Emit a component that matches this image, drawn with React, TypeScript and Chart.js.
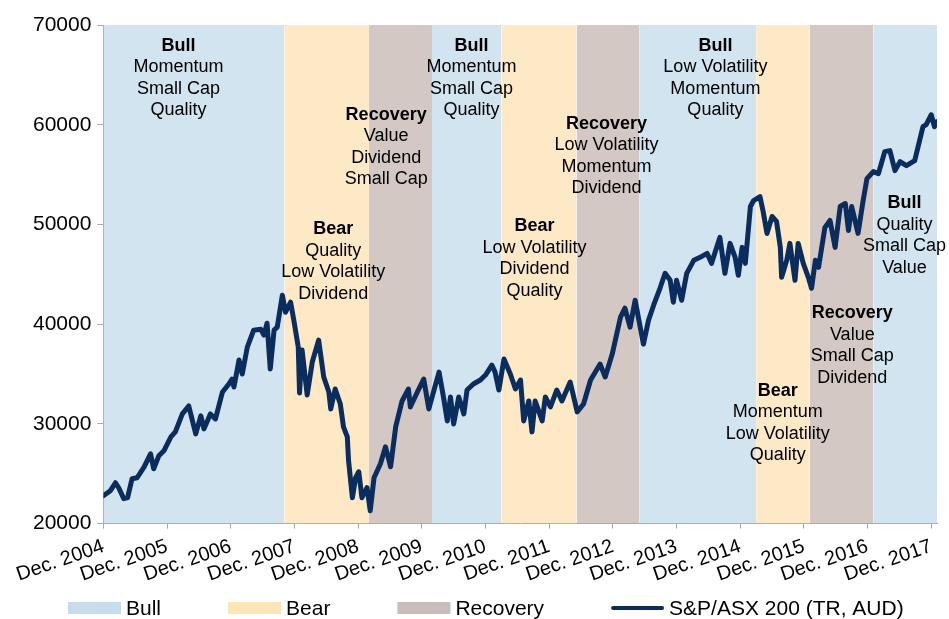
import React, { useEffect, useRef } from "react";
import { Chart, registerables } from "chart.js";

Chart.register(...registerables);

// ---- Data ----
const TICK_LABELS = [
  "Dec. 2004", "Dec. 2005", "Dec. 2006", "Dec. 2007", "Dec. 2008", "Dec. 2009", "Dec. 2010",
  "Dec. 2011", "Dec. 2012", "Dec. 2013", "Dec. 2014", "Dec. 2015", "Dec. 2016", "Dec. 2017",
];
const X_MAX = 13.09;

// years since Dec. 2004
const INDEX_YEARS = [
  0.0, 0.11, 0.19, 0.24, 0.32, 0.38, 0.45, 0.53, 0.64, 0.74, 0.79, 0.87, 0.95, 1.06, 1.13, 1.24,
  1.34, 1.45, 1.53, 1.58, 1.68, 1.76, 1.87, 1.97, 2.02, 2.05, 2.13, 2.18, 2.26, 2.36, 2.47, 2.52,
  2.57, 2.62, 2.68, 2.73, 2.81, 2.86, 2.94, 2.99, 3.06, 3.08, 3.12, 3.2, 3.28, 3.38, 3.46, 3.54,
  3.57, 3.64, 3.72, 3.77, 3.83, 3.85, 3.91, 3.96, 4.01, 4.06, 4.14, 4.19, 4.25, 4.35, 4.43, 4.51,
  4.59, 4.69, 4.79, 4.82, 4.93, 5.03, 5.11, 5.27, 5.34, 5.4, 5.45, 5.5, 5.58, 5.66, 5.71, 5.81,
  5.92, 6.0, 6.1, 6.15, 6.21, 6.29, 6.39, 6.47, 6.55, 6.6, 6.68, 6.73, 6.78, 6.89, 6.94, 7.02,
  7.12, 7.2, 7.33, 7.44, 7.54, 7.65, 7.8, 7.88, 7.99, 8.12, 8.19, 8.27, 8.35, 8.48, 8.56, 8.64,
  8.74, 8.82, 8.9, 8.95, 9.0, 9.08, 9.16, 9.27, 9.37, 9.48, 9.55, 9.68, 9.76, 9.84, 9.92, 9.97,
  10.03, 10.08, 10.16, 10.21, 10.31, 10.36, 10.42, 10.5, 10.57, 10.63, 10.65, 10.73, 10.78, 10.86,
  10.91, 10.99, 11.07, 11.12, 11.18, 11.23, 11.33, 11.41, 11.49, 11.57, 11.65, 11.7, 11.75, 11.85,
  11.93, 11.99, 12.09, 12.17, 12.27, 12.35, 12.43, 12.51, 12.61, 12.74, 12.82, 12.87, 12.92, 13.0,
  13.05, 13.08,
];
const INDEX_VALUES = [
  22800, 23300, 24100, 23600, 22500, 22600, 24500, 24600, 25700, 27000, 25500, 26800, 27300, 28700, 29200, 31000,
  31800, 29000, 30800, 29500, 31000, 30500, 33200, 34000, 34500, 33700, 36400, 35000, 37700, 39400, 39500, 38900,
  40100, 35500, 39400, 39700, 42900, 41200, 42200, 40400, 37700, 33100, 37400, 32900, 36200, 38400, 34700, 33200,
  31500, 33500, 32000, 29700, 28700, 26300, 22600, 24600, 25200, 22600, 23600, 21300, 24600, 26000, 27700, 25700,
  29700, 32300, 33500, 31700, 33200, 34500, 31500, 35200, 32700, 30300, 32700, 30000, 32700, 31000, 33400, 34000,
  34400, 34900, 35900, 35200, 33400, 36500, 35000, 33500, 34400, 30300, 32300, 29200, 32300, 30300, 32700, 31700,
  33400, 32300, 34200, 31200, 32000, 34400, 36000, 34700, 37000, 40700, 41600, 39700, 42400, 38000, 40400, 41900,
  43600, 45100, 44400, 42200, 44400, 42400, 45100, 46400, 46700, 47100, 46100, 48700, 45100, 48100, 46700, 44900,
  47700, 46100, 51800, 52400, 52800, 51300, 49100, 50800, 50300, 47700, 44700, 46400, 48100, 44400,
  48100, 46100, 44700, 43600, 46400, 45700, 49700, 50400, 47700, 51800, 52100, 49400, 51800, 49100,
  52400, 54600, 55300, 55100, 57300, 57400, 55400, 56300, 55900, 56400, 58500, 59800, 60000, 61000,
  59800, 60300,
];

const REGIME_TYPES = ["Bull", "Bear", "Recovery", "Bull", "Bear", "Recovery", "Bull", "Bear", "Recovery", "Bull"];
const REGIME_START = [0, 2.84, 4.17, 5.16, 6.25, 7.43, 8.42, 10.25, 11.09, 12.09];
const REGIME_END = [2.84, 4.17, 5.16, 6.25, 7.43, 8.42, 10.25, 11.09, 12.09, X_MAX];

const NOTE_X = [1.18, 3.61, 4.44, 5.78, 6.77, 7.9, 9.61, 10.59, 11.76, 12.58];
const NOTE_Y = [67900, 49500, 61000, 67900, 49800, 60100, 67900, 33300, 41100, 52100];
const NOTE_TITLES = ["Bull", "Bear", "Recovery", "Bull", "Bear", "Recovery", "Bull", "Bear", "Recovery", "Bull"];
const NOTE_LINES = [
  ["Momentum", "Small Cap", "Quality"],
  ["Quality", "Low Volatility", "Dividend"],
  ["Value", "Dividend", "Small Cap"],
  ["Momentum", "Small Cap", "Quality"],
  ["Low Volatility", "Dividend", "Quality"],
  ["Low Volatility", "Momentum", "Dividend"],
  ["Low Volatility", "Momentum", "Quality"],
  ["Momentum", "Low Volatility", "Quality"],
  ["Value", "Small Cap", "Dividend"],
  ["Quality", "Small Cap", "Value"],
];

const SERIES_LABEL = "S&P/ASX 200 (TR, AUD)";
const LEGEND_TYPES = ["Bull", "Bear", "Recovery"];

// ---- Styles ----
const FONT = "'Liberation Sans', Arial, Helvetica, sans-serif";
const FILL: Record<string, string> = { Bull: "#d2e4f0", Bear: "#fde9c6", Recovery: "#d3c8c4" };
const LEGEND_FILL: Record<string, string> = { Bull: "#c8ddec", Bear: "#fde5b7", Recovery: "#c8bdb8" };
const LINE_COLOR = "#0b2d5e";
const AXIS_COLOR = "#a6a6a6";

const notesPlugin = {
  id: "regimeNotes",
  afterDatasetsDraw(chart: any) {
    const { ctx, scales } = chart;
    ctx.save();
    ctx.textAlign = "center";
    ctx.textBaseline = "middle";
    ctx.fillStyle = "#000";
    const lh = 21.5;
    NOTE_X.forEach((x, i) => {
      const px = scales.x.getPixelForValue(x);
      const py = scales.y.getPixelForValue(NOTE_Y[i]);
      ctx.font = `bold 18px ${FONT}`;
      ctx.fillText(NOTE_TITLES[i], px, py);
      ctx.font = `18px ${FONT}`;
      NOTE_LINES[i].forEach((t, j) => ctx.fillText(t, px, py + lh * (j + 1)));
    });
    ctx.restore();
  },
};

const legendPlugin = {
  id: "customLegend",
  afterDraw(chart: any) {
    const { ctx } = chart;
    ctx.save();
    ctx.font = `21px ${FONT}`;
    ctx.textBaseline = "middle";
    ctx.textAlign = "left";
    const cy = 608;
    const boxW = 53;
    const gapText = 5;
    const gapItem = 67;
    let x = 68;
    LEGEND_TYPES.forEach((t) => {
      ctx.fillStyle = LEGEND_FILL[t];
      ctx.fillRect(x, cy - 6, boxW, 12);
      x += boxW + gapText;
      ctx.fillStyle = "#000";
      ctx.fillText(t, x, cy + 1);
      x += ctx.measureText(t).width + gapItem;
    });
    ctx.strokeStyle = LINE_COLOR;
    ctx.lineWidth = 4;
    ctx.lineCap = "round";
    ctx.beginPath();
    ctx.moveTo(x + 2, cy);
    ctx.lineTo(x + boxW - 2, cy);
    ctx.stroke();
    x += boxW + gapText;
    ctx.fillStyle = "#000";
    ctx.fillText(SERIES_LABEL, x, cy + 1);
    ctx.restore();
  },
};

export default function App() {
  const ref = useRef<HTMLCanvasElement | null>(null);

  useEffect(() => {
    if (!ref.current) return;
    const regimeSets = REGIME_TYPES.map((t, i) => ({
      type: "line" as const,
      label: t,
      data: [
        { x: REGIME_START[i], y: 70000 },
        { x: REGIME_END[i], y: 70000 },
      ],
      fill: "start",
      backgroundColor: FILL[t],
      borderColor: "rgba(0,0,0,0)",
      borderWidth: 0,
      pointRadius: 0,
      order: 2,
    }));
    const chart = new Chart(ref.current, {
      type: "line",
      data: {
        datasets: [
          {
            label: SERIES_LABEL,
            data: INDEX_YEARS.map((x, i) => ({ x, y: INDEX_VALUES[i] })),
            borderColor: LINE_COLOR,
            backgroundColor: LINE_COLOR,
            borderWidth: 5,
            borderJoinStyle: "round",
            borderCapStyle: "round",
            pointRadius: 0,
            tension: 0,
            fill: false,
            order: 1,
          },
          ...regimeSets,
        ] as any,
      },
      options: {
        animation: false,
        responsive: true,
        maintainAspectRatio: false,
        layout: { padding: { left: 27, right: 12, top: 25, bottom: 26 } },
        plugins: {
          legend: { display: false },
          tooltip: { enabled: false },
          title: { display: false },
        },
        scales: {
          x: {
            type: "linear",
            min: 0,
            max: X_MAX,
            afterBuildTicks: (axis: any) => {
              axis.ticks = TICK_LABELS.map((_, i) => ({ value: i }));
            },
            ticks: {
              autoSkip: false,
              minRotation: 19,
              maxRotation: 19,
              padding: 6,
              color: "#000",
              font: { family: FONT, size: 20 },
              callback: (v: any) => TICK_LABELS[Math.round(Number(v))] ?? "",
            },
            grid: { drawOnChartArea: false, drawTicks: true, tickLength: 5, color: AXIS_COLOR },
            border: { display: true, color: AXIS_COLOR, width: 1 },
          },
          y: {
            type: "linear",
            min: 20000,
            max: 70000,
            ticks: {
              stepSize: 10000,
              padding: 6,
              color: "#000",
              font: { family: FONT, size: 21 },
              callback: (v: any) => String(v),
            },
            grid: { drawOnChartArea: false, drawTicks: true, tickLength: 6, color: AXIS_COLOR },
            border: { display: true, color: AXIS_COLOR, width: 1 },
          },
        },
      },
      plugins: [notesPlugin, legendPlugin],
    });
    return () => chart.destroy();
  }, []);

  return (
    <div style={{ position: "fixed", left: 0, top: 0, width: 949, height: 619, background: "#fff" }}>
      <canvas ref={ref} />
    </div>
  );
}
